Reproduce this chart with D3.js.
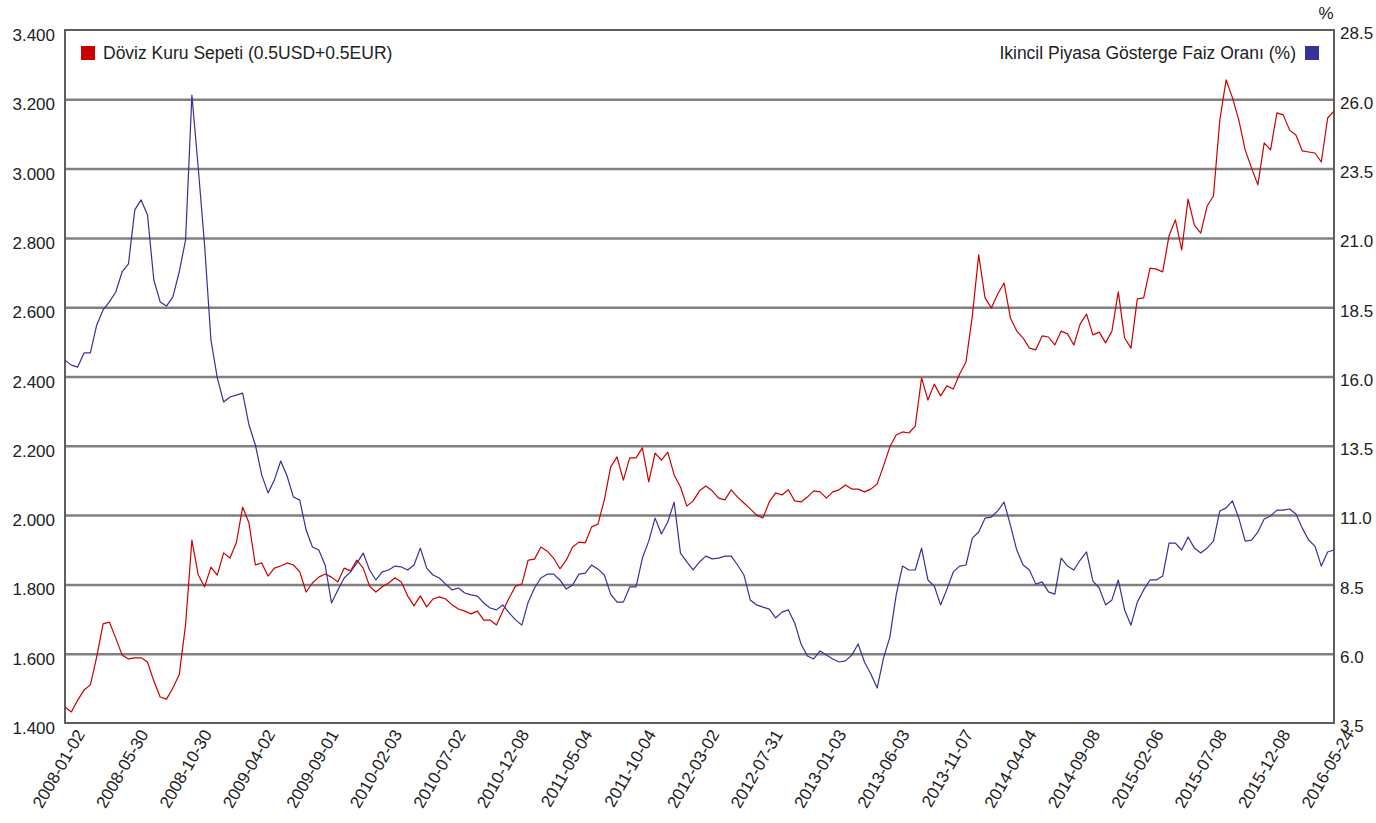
<!DOCTYPE html>
<html lang="tr">
<head>
    <meta charset="utf-8">
    <!-- Load d3.js -->
    <script src="https://d3js.org/d3.v7.min.js"></script>
    <style>
        body { margin: 0; background: #fff; }
        text { font-family: "Liberation Sans", Arial, sans-serif; }
    </style>
</head>
<body>
    <div id="my_dataviz"></div>

    <script>
        // x axis labels (one every 10 samples)
        const dateLabels = ["2008-01-02", "2008-05-30", "2008-10-30", "2009-04-02", "2009-09-01",
            "2010-02-03", "2010-07-02", "2010-12-08", "2011-05-04", "2011-10-04", "2012-03-02",
            "2012-07-31", "2013-01-03", "2013-06-03", "2013-11-07", "2014-04-04", "2014-09-08",
            "2015-02-06", "2015-07-08", "2015-12-08", "2016-05-24"];

        const leftTicks = [1.4, 1.6, 1.8, 2.0, 2.2, 2.4, 2.6, 2.8, 3.0, 3.2, 3.4];
        const rightTicks = [3.5, 6.0, 8.5, 11.0, 13.5, 16.0, 18.5, 21.0, 23.5, 26.0, 28.5];

        // Döviz Kuru Sepeti (0.5USD+0.5EUR), left axis
        const basket = [
            1.446, 1.432, 1.466, 1.495, 1.510, 1.591, 1.686, 1.691, 1.645, 1.596,
            1.585, 1.588, 1.588, 1.576, 1.521, 1.475, 1.469, 1.501, 1.539, 1.683,
            1.928, 1.827, 1.793, 1.850, 1.827, 1.891, 1.876, 1.920, 2.023, 1.977,
            1.856, 1.862, 1.824, 1.847, 1.853, 1.862, 1.856, 1.836, 1.778, 1.804,
            1.821, 1.830, 1.821, 1.807, 1.847, 1.839, 1.870, 1.847, 1.795, 1.778,
            1.793, 1.804, 1.819, 1.807, 1.767, 1.738, 1.767, 1.735, 1.758, 1.764,
            1.758, 1.741, 1.729, 1.723, 1.715, 1.723, 1.697, 1.697, 1.683, 1.723,
            1.761, 1.795, 1.801, 1.870, 1.873, 1.908, 1.896, 1.876, 1.845, 1.870,
            1.908, 1.922, 1.920, 1.966, 1.974, 2.044, 2.139, 2.168, 2.101, 2.165,
            2.165, 2.194, 2.096, 2.179, 2.159, 2.182, 2.116, 2.081, 2.026, 2.041,
            2.070, 2.084, 2.070, 2.049, 2.044, 2.073, 2.052, 2.035, 2.018, 2.000,
            1.992, 2.038, 2.064, 2.058, 2.073, 2.041, 2.038, 2.052, 2.070, 2.067,
            2.049, 2.067, 2.073, 2.087, 2.075, 2.075, 2.067, 2.075, 2.090, 2.142,
            2.197, 2.231, 2.240, 2.237, 2.257, 2.396, 2.332, 2.378, 2.344, 2.373,
            2.364, 2.407, 2.442, 2.575, 2.751, 2.627, 2.598, 2.638, 2.670, 2.569,
            2.531, 2.511, 2.482, 2.477, 2.517, 2.514, 2.491, 2.531, 2.523, 2.491,
            2.552, 2.580, 2.520, 2.528, 2.497, 2.531, 2.644, 2.511, 2.482, 2.624,
            2.627, 2.713, 2.710, 2.702, 2.806, 2.852, 2.765, 2.912, 2.837, 2.814,
            2.892, 2.921, 3.140, 3.256, 3.204, 3.140, 3.054, 3.002, 2.953, 3.074,
            3.054, 3.161, 3.155, 3.111, 3.097, 3.051, 3.048, 3.045, 3.019, 3.146,
            3.166
        ];

        // Ikincil Piyasa Gösterge Faiz Oranı (%), right axis
        const rate = [
            16.59, 16.41, 16.34, 16.85, 16.85, 17.86, 18.40, 18.69, 19.05, 19.77,
            20.06, 22.01, 22.37, 21.83, 19.48, 18.69, 18.54, 18.87, 19.77, 20.92,
            26.15, 23.52, 20.74, 17.32, 15.95, 15.08, 15.26, 15.33, 15.40, 14.25,
            13.53, 12.45, 11.80, 12.27, 12.95, 12.41, 11.65, 11.54, 10.46, 9.85,
            9.74, 9.20, 7.83, 8.30, 8.73, 8.95, 9.27, 9.63, 9.02, 8.66,
            8.95, 9.02, 9.16, 9.13, 9.02, 9.20, 9.81, 9.09, 8.84, 8.73,
            8.51, 8.30, 8.37, 8.19, 8.12, 8.08, 7.83, 7.65, 7.58, 7.76,
            7.47, 7.22, 7.03, 7.86, 8.37, 8.73, 8.87, 8.87, 8.66, 8.33,
            8.48, 8.87, 8.91, 9.20, 9.05, 8.84, 8.15, 7.86, 7.86, 8.41,
            8.41, 9.45, 10.06, 10.89, 10.32, 10.75, 11.47, 9.63, 9.31, 9.02,
            9.31, 9.52, 9.42, 9.45, 9.52, 9.52, 9.20, 8.84, 7.94, 7.76,
            7.68, 7.61, 7.29, 7.50, 7.58, 7.11, 6.35, 5.92, 5.81, 6.10,
            5.95, 5.81, 5.70, 5.74, 5.95, 6.35, 5.70, 5.27, 4.76, 5.84,
            6.60, 8.12, 9.16, 9.02, 9.02, 9.81, 8.66, 8.44, 7.76, 8.33,
            8.95, 9.16, 9.20, 10.17, 10.39, 10.89, 10.93, 11.15, 11.47, 10.64,
            9.74, 9.20, 9.02, 8.51, 8.59, 8.23, 8.15, 9.45, 9.16, 9.02,
            9.38, 9.67, 8.62, 8.37, 7.76, 7.94, 8.66, 7.58, 7.03, 7.86,
            8.30, 8.66, 8.66, 8.80, 9.99, 9.99, 9.74, 10.21, 9.81, 9.63,
            9.81, 10.06, 11.15, 11.26, 11.51, 10.89, 10.06, 10.10, 10.39, 10.86,
            10.97, 11.18, 11.18, 11.22, 11.04, 10.53, 10.10, 9.88, 9.16, 9.67,
            9.74
        ];

        const basketColor = "#cc0000";
        const rateColor = "#333399";

        // plot area
        const W = 1376, H = 823;
        const plotLeft = 65, plotRight = 1334, plotTop = 30, plotBottom = 723;

        const svg = d3.select("#my_dataviz")
            .append("svg")
            .attr("width", W)
            .attr("height", H)
            .style("background-color", "white");

        const x = d3.scaleLinear()
            .domain([0, basket.length - 1])
            .range([plotLeft, plotRight]);
        const yL = d3.scaleLinear().domain([1.4, 3.4]).range([plotBottom, plotTop]);
        const yR = d3.scaleLinear().domain([3.5, 28.5]).range([plotBottom, plotTop]);

        // horizontal grid lines
        svg.append("g")
            .attr("transform", `translate(${plotLeft},0)`)
            .call(d3.axisLeft(yL).tickValues(leftTicks.slice(1, -1)).tickSize(-(plotRight - plotLeft)).tickFormat(""))
            .call(g => g.select(".domain").remove())
            .selectAll("line")
            .attr("stroke", "#808080")
            .attr("stroke-width", 2.5);

        // frame
        svg.append("rect")
            .attr("x", plotLeft)
            .attr("y", plotTop)
            .attr("width", plotRight - plotLeft)
            .attr("height", plotBottom - plotTop)
            .attr("fill", "none")
            .attr("stroke", "#5e5e5e")
            .attr("stroke-width", 2);

        // left axis labels (sit a little below their grid line)
        svg.append("g")
            .attr("transform", `translate(${plotLeft},0)`)
            .call(d3.axisLeft(yL).tickValues(leftTicks).tickSize(0).tickPadding(10).tickFormat(d3.format(".3f")))
            .call(g => g.select(".domain").remove())
            .selectAll("text")
            .attr("dy", "0.62em")
            .style("font-size", "17px")
            .style("font-family", "'Liberation Sans', Arial, sans-serif")
            .attr("fill", "#222");

        // right axis labels
        svg.append("g")
            .attr("transform", `translate(${plotRight},0)`)
            .call(d3.axisRight(yR).tickValues(rightTicks).tickSize(0).tickPadding(6).tickFormat(d3.format(".1f")))
            .call(g => g.select(".domain").remove())
            .selectAll("text")
            .attr("dy", "0.52em")
            .style("font-size", "17px")
            .style("font-family", "'Liberation Sans', Arial, sans-serif")
            .attr("fill", "#222");

        svg.append("text")
            .attr("x", 1326)
            .attr("y", 19)
            .attr("text-anchor", "middle")
            .style("font-size", "17px")
            .attr("fill", "#222")
            .text("%");

        // bottom axis, rotated date labels
        const tickIdx = dateLabels.map((d, i) => i * 10);
        svg.append("g")
            .attr("transform", `translate(0,${plotBottom})`)
            .call(d3.axisBottom(x).tickValues(tickIdx).tickSize(0).tickFormat(i => dateLabels[i / 10]))
            .call(g => g.select(".domain").remove())
            .selectAll("text")
            .style("font-size", "17px")
            .style("font-family", "'Liberation Sans', Arial, sans-serif")
            .attr("fill", "#222")
            .style("text-anchor", "end")
            .attr("dy", "0")
            .attr("y", 0)
            .attr("transform", "translate(20,11) rotate(-60)");

        // lines
        const lineL = d3.line().x((d, i) => x(i)).y(d => yL(d));
        const lineR = d3.line().x((d, i) => x(i)).y(d => yR(d));

        svg.append("path")
            .datum(basket)
            .attr("fill", "none")
            .attr("stroke", basketColor)
            .attr("stroke-width", 1.2)
            .attr("stroke-linejoin", "round")
            .attr("d", lineL);

        svg.append("path")
            .datum(rate)
            .attr("fill", "none")
            .attr("stroke", rateColor)
            .attr("stroke-width", 1.2)
            .attr("stroke-linejoin", "round")
            .attr("d", lineR);

        // legends
        svg.append("rect")
            .attr("x", 81).attr("y", 46)
            .attr("width", 14).attr("height", 14)
            .attr("fill", basketColor);
        svg.append("text")
            .attr("x", 103).attr("y", 59)
            .style("font-size", "17.5px")
            .attr("fill", "#222")
            .text("Döviz Kuru Sepeti (0.5USD+0.5EUR)");

        svg.append("rect")
            .attr("x", 1305).attr("y", 46)
            .attr("width", 14).attr("height", 14)
            .attr("fill", rateColor);
        svg.append("text")
            .attr("x", 1296).attr("y", 59)
            .attr("text-anchor", "end")
            .style("font-size", "17.5px")
            .attr("fill", "#222")
            .text("Ikincil Piyasa Gösterge Faiz Oranı (%)");
    </script>
</body>
</html>
